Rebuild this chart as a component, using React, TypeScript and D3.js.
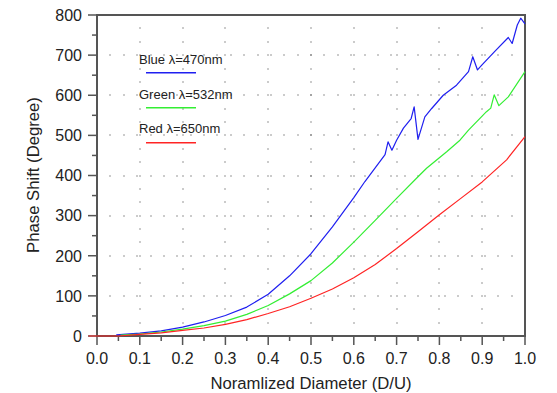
import React from "react";
import * as d3 from "d3";

// Axis ticks
const xTickValues = [0, 0.1, 0.2, 0.3, 0.4, 0.5, 0.6, 0.7, 0.8, 0.9, 1.0];
const xTickLabels = ["0.0", "0.1", "0.2", "0.3", "0.4", "0.5", "0.6", "0.7", "0.8", "0.9", "1.0"];
const yTickValues = [0, 100, 200, 300, 400, 500, 600, 700, 800];
const yTickLabels = ["0", "100", "200", "300", "400", "500", "600", "700", "800"];

// Blue, λ = 470 nm
const blueX = [0.045, 0.1, 0.15, 0.2, 0.25, 0.3, 0.35, 0.4, 0.45, 0.5, 0.55, 0.6, 0.626, 0.673, 0.68, 0.689, 0.7, 0.716, 0.734, 0.741, 0.75, 0.766, 0.782, 0.809, 0.84, 0.868, 0.878, 0.889, 0.899, 0.93, 0.961, 0.97, 0.982, 0.99, 1.0];
const blueY = [3, 7, 13, 22, 35, 51, 72, 104, 150, 205, 272, 345, 385, 452, 484, 463, 488, 518, 542, 571, 490, 546, 567, 600, 625, 659, 696, 663, 675, 710, 744, 729, 775, 792, 778];

// Green, λ = 532 nm
const greenX = [0.055, 0.1, 0.15, 0.2, 0.25, 0.3, 0.35, 0.4, 0.45, 0.5, 0.55, 0.6, 0.65, 0.7, 0.75, 0.77, 0.817, 0.848, 0.868, 0.91, 0.92, 0.928, 0.939, 0.961, 1.0];
const greenY = [2, 5, 10, 17, 26, 37, 54, 76, 105, 138, 182, 234, 288, 343, 397, 418, 459, 488, 513, 559, 568, 601, 574, 596, 659];

// Red, λ = 650 nm
const redX = [-0.02, 0.05, 0.1, 0.15, 0.2, 0.25, 0.3, 0.35, 0.4, 0.45, 0.5, 0.55, 0.6, 0.65, 0.7, 0.75, 0.8, 0.85, 0.9, 0.957, 1.0];
const redY = [0, 0, 4, 8, 14, 20, 29, 41, 56, 73, 94, 117, 145, 178, 218, 260, 302, 343, 384, 439, 497];

const seriesNames = ["Blue \u03bb=470nm", "Green \u03bb=532nm", "Red \u03bb=650nm"];
const seriesColors = ["#1f1ff0", "#33ee33", "#ff2424"];

const FONT = "'Liberation Sans', Arial, Helvetica, sans-serif";

export default function App() {
  const W = 557;
  const H = 393;
  const x = d3.scaleLinear().domain([0, 1]).range([97, 525]);
  const y = d3.scaleLinear().domain([0, 800]).range([336, 15]);

  const series = [
    { xs: blueX, ys: blueY },
    { xs: greenX, ys: greenY },
    { xs: redX, ys: redY },
  ];

  const line = d3
    .line<[number, number]>()
    .x((d) => x(d[0]))
    .y((d) => y(d[1]));

  // dotted grid: dots every 1/32 of the width and 1/24 of the height
  const dots: { cx: number; cy: number }[] = [];
  xTickValues.slice(1, -1).forEach((gx) => {
    for (let k = 1; k < 24; k++) dots.push({ cx: Math.round(x(gx)), cy: Math.round(y((800 * k) / 24)) });
  });
  yTickValues.slice(1, -1).forEach((gy) => {
    for (let k = 1; k < 32; k++) dots.push({ cx: Math.round(x(k / 32)), cy: Math.round(y(gy)) });
  });

  const xMinor = d3.range(0.05, 1, 0.1);
  const yMinor = d3.range(50, 800, 100);

  const [x0, x1] = x.range();
  const [y0, y1] = y.range();
  const axisColor = "#555";

  return (
    <svg
      width={W}
      height={H}
      style={{ position: "absolute", left: 0, top: 0, display: "block", background: "#fff" }}
      fontFamily={FONT}
    >
      <rect x={0} y={0} width={W} height={H} fill="#fff" />

      {/* grid */}
      {dots.map((d, i) => (
        <rect key={i} x={d.cx - 0.5} y={d.cy - 0.5} width={1} height={1} fill="#333" />
      ))}

      {/* x ticks */}
      {xTickValues.map((v) => (
        <line key={"xt" + v} x1={x(v)} x2={x(v)} y1={y0} y2={y0 + 9} stroke={axisColor} strokeWidth={1.5} />
      ))}
      {xMinor.map((v) => (
        <line key={"xm" + v} x1={x(v)} x2={x(v)} y1={y0} y2={y0 + 5} stroke={axisColor} strokeWidth={1.5} />
      ))}
      {xTickValues.map((v, i) => (
        <text key={"xl" + v} x={x(v)} y={364} textAnchor="middle" fontSize={16} fill="#222">
          {xTickLabels[i]}
        </text>
      ))}

      {/* y ticks */}
      {yTickValues.map((v) => (
        <line key={"yt" + v} x1={x0 - 9} x2={x0} y1={y(v)} y2={y(v)} stroke={axisColor} strokeWidth={1.5} />
      ))}
      {yMinor.map((v) => (
        <line key={"ym" + v} x1={x0 - 5} x2={x0} y1={y(v)} y2={y(v)} stroke={axisColor} strokeWidth={1.5} />
      ))}
      {yTickValues.map((v, i) => (
        <text key={"yl" + v} x={82} y={y(v)} dy="0.36em" textAnchor="end" fontSize={16} fill="#222">
          {yTickLabels[i]}
        </text>
      ))}

      {/* frame */}
      <rect x={x0} y={y1} width={x1 - x0} height={y0 - y1} fill="none" stroke={axisColor} strokeWidth={2} />

      {/* curves */}
      {series.map((s, i) => (
        <path
          key={"s" + i}
          d={line(s.xs.map((v, j) => [v, s.ys[j]] as [number, number])) || ""}
          fill="none"
          stroke={seriesColors[i]}
          strokeWidth={1.2}
          strokeLinejoin="round"
        />
      ))}

      {/* legend */}
      {seriesNames.map((name, i) => (
        <g key={"lg" + i}>
          <text x={139} y={64 + i * 34.5} fontSize={13} fill="#222">
            {name}
          </text>
          <line x1={146} x2={196} y1={72.7 + i * 35} y2={72.7 + i * 35} stroke={seriesColors[i]} strokeWidth={1.4} />
        </g>
      ))}

      {/* axis titles */}
      <text x={311} y={389} textAnchor="middle" fontSize={16.7} fill="#222">
        Noramlized Diameter (D/U)
      </text>
      <text transform="translate(39,175) rotate(-90)" textAnchor="middle" fontSize={16.7} fill="#222">
        Phase Shift (Degree)
      </text>
    </svg>
  );
}
